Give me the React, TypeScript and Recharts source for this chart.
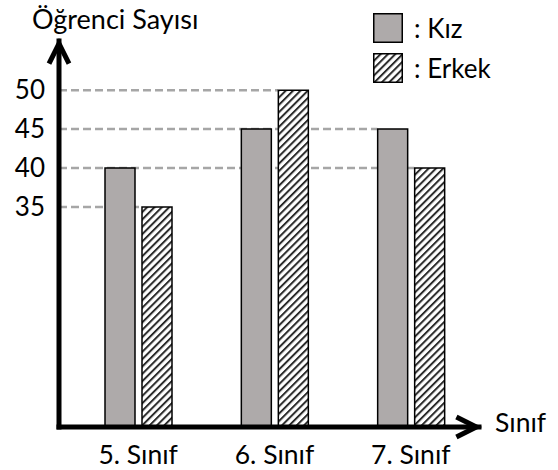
import { BarChart, Bar, XAxis, YAxis, ReferenceLine, Legend } from 'recharts';

const classes = ['5. Sınıf', '6. Sınıf', '7. Sınıf'];
const kiz = [40, 45, 45];
const erkek = [35, 50, 40];
const yTicks = [35, 40, 45, 50];
const seriesNames = ['Kız', 'Erkek'];

const W = 558;
const H = 470;
const PLOT_LEFT = 59;
const PLOT_RIGHT = 479;
const PLOT_TOP = 41;
const PLOT_BOTTOM = 427;
const PAD_LEFT = 11;
const BAR = 30;
const GAP = 7;
// axis is cut below 35, so the bars start from an implicit break
const Y_DOMAIN = [6.8, 56.3];
const FONT = 'Lato, "Noto Sans", sans-serif';

const data = classes.map((sinif, i) => ({ sinif, kiz: kiz[i], erkek: erkek[i] }));

// dashed guide: from the y axis to the left edge of the last bar with that value
const guides = yTicks.map((v) => {
  let cls = classes[0];
  let shift = 0;
  classes.forEach((c, i) => {
    if (kiz[i] === v) {
      cls = c;
      shift = -(GAP / 2 + BAR);
    }
    if (erkek[i] === v) {
      cls = c;
      shift = GAP / 2;
    }
  });
  return { v, cls, shift };
});

// eslint-disable-next-line @typescript-eslint/no-explicit-any
const guideShape = (shift: number) => (props: any) => (
  <line
    x1={PLOT_LEFT}
    y1={props.y1}
    x2={props.x2 + shift}
    y2={props.y2}
    stroke="#a6a6a6"
    strokeWidth={2.5}
    strokeDasharray="8 4"
  />
);

// eslint-disable-next-line @typescript-eslint/no-explicit-any
const renderTitle = (props: any) => {
  const vb = props.viewBox;
  return (
    <text x={vb.x + 32} y={vb.y - 12} fontSize={27} fill="#000" fontFamily={FONT}>
      Öğrenci Sayısı
    </text>
  );
};

// eslint-disable-next-line @typescript-eslint/no-explicit-any
const renderXLabel = (props: any) => {
  const vb = props.viewBox;
  return (
    <text x={vb.x + vb.width + 16} y={vb.y + 5} fontSize={26.5} fill="#000" fontFamily={FONT}>
      Sınıf
    </text>
  );
};

// eslint-disable-next-line @typescript-eslint/no-explicit-any
const renderLegend = (props: any) => {
  // eslint-disable-next-line @typescript-eslint/no-explicit-any
  const items = [...(props.payload || [])].sort(
    (a: any, b: any) => seriesNames.indexOf(a.value) - seriesNames.indexOf(b.value)
  );
  return (
    <div style={{ fontFamily: FONT }}>
      {/* eslint-disable-next-line @typescript-eslint/no-explicit-any */}
      {items.map((entry: any) => (
        <div key={entry.value} style={{ display: 'flex', alignItems: 'center', height: 30, marginBottom: 10 }}>
          <svg width={30} height={30} style={{ display: 'block' }}>
            <rect x={0.75} y={0.75} width={28.5} height={28.5} fill={entry.color} stroke="#000" strokeWidth={1.5} />
          </svg>
          <span style={{ marginLeft: 11, fontSize: 26, lineHeight: '30px', color: '#000' }}>: {entry.value}</span>
        </div>
      ))}
    </div>
  );
};

export default function App() {
  return (
    <div style={{ position: 'absolute', left: 0, top: 0, fontFamily: FONT }}>
      <BarChart
        width={W}
        height={H}
        data={data}
        barSize={BAR}
        barGap={GAP}
        margin={{ top: PLOT_TOP, right: W - PLOT_RIGHT, left: 0, bottom: 0 }}
      >
        <defs>
          <pattern id="hatch" patternUnits="userSpaceOnUse" width={5.2} height={5.2} patternTransform="rotate(45)">
            <rect width={5.2} height={5.2} fill="#fff" />
            <rect width={2} height={5.2} fill="#2a2a2a" />
          </pattern>
          <marker
            id="arrow"
            markerUnits="userSpaceOnUse"
            viewBox="-26 -14 34 28"
            markerWidth={34}
            markerHeight={28}
            refX={2.6}
            refY={0}
            orient="auto-start-reverse"
            style={{ overflow: 'visible' }}
          >
            <path d="M -20 -10 L 0 0 L -20 10" fill="none" stroke="#000" strokeWidth={5} />
          </marker>
        </defs>
        <XAxis
          dataKey="sinif"
          type="category"
          height={H - PLOT_BOTTOM}
          padding={{ left: PAD_LEFT, right: 0 }}
          tickLine={false}
          tickSize={0}
          tickMargin={18}
          tick={{ fill: '#000', fontSize: 26.5 }}
          axisLine={{ stroke: '#000', strokeWidth: 5, strokeLinecap: 'square', markerEnd: 'url(#arrow)' }}
          label={renderXLabel}
        />
        <YAxis
          type="number"
          width={PLOT_LEFT}
          domain={Y_DOMAIN}
          allowDataOverflow
          ticks={yTicks}
          interval={0}
          tickLine={false}
          tickSize={0}
          tickMargin={14}
          tick={{ fill: '#000', fontSize: 26 }}
          axisLine={{ stroke: '#000', strokeWidth: 5, strokeLinecap: 'square', markerStart: 'url(#arrow)' }}
          label={renderTitle}
        />
        {guides.map((g) => (
          <ReferenceLine
            key={g.v}
            segment={[{ x: classes[0], y: g.v }, { x: g.cls, y: g.v }]}
            ifOverflow="visible"
            shape={guideShape(g.shift)}
            zIndex={-1}
          />
        ))}
        <Legend
          layout="vertical"
          align="center"
          verticalAlign="middle"
          content={renderLegend}
          wrapperStyle={{ left: 373, top: 13, width: 'auto' }}
        />
        <Bar dataKey="kiz" name="Kız" fill="#aeaaaa" stroke="#000" strokeWidth={1.5} isAnimationActive={false} />
        <Bar dataKey="erkek" name="Erkek" fill="url(#hatch)" stroke="#000" strokeWidth={1.5} isAnimationActive={false} />
      </BarChart>
    </div>
  );
}
